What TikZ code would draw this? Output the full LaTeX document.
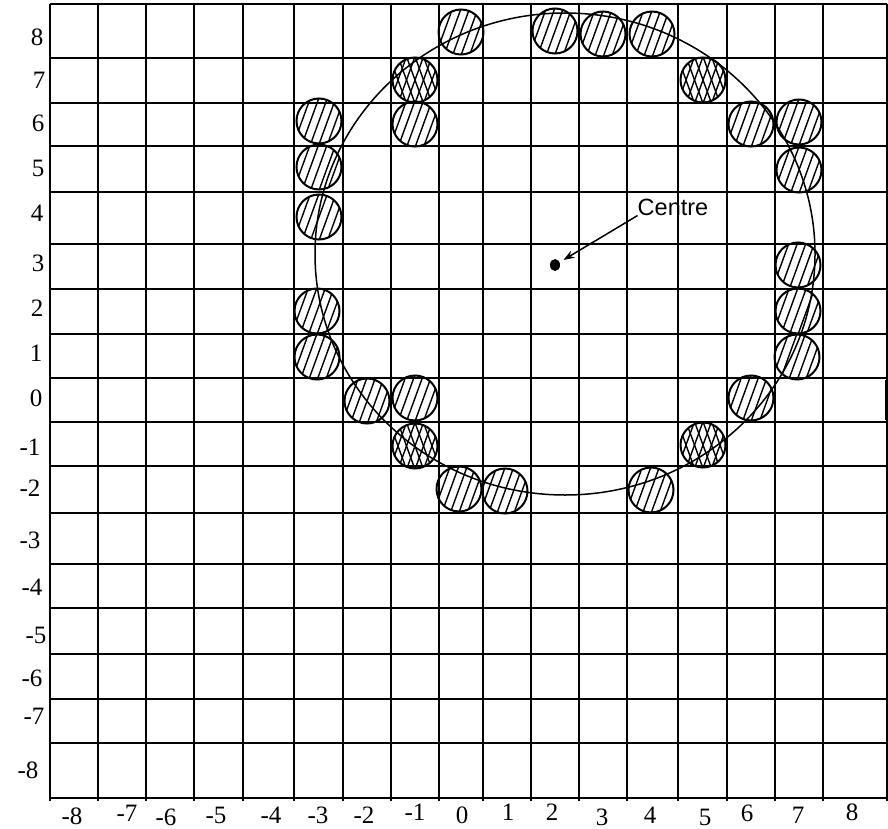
\documentclass[tikz,border=0pt]{standalone}
\usepackage{fontspec}
\setmainfont{Liberation Serif}
\setsansfont{Liberation Sans}
\usetikzlibrary{arrows.meta,shapes.geometric}
\newcommand{\gridxs}{50,98,146,194,243,294,343,391,439,483,531,579,627,678,727,775,823,887}
\newcommand{\gridys}{4,58,103,146,192,244,289,334,378,422,466,513,564,608,654,699,743,798}
\newcommand{\hatchlines}[1]{%
  \foreach \k in {-4,...,4}
    \draw[line width=1.4pt] ([xshift=\k*8.5pt]path picture bounding box.center)
      ++(#1+180:32pt) -- ++(#1:64pt);}
\tikzset{
  gridline/.style={line width=2pt},
  axislabel/.style={inner sep=0pt, font=\fontsize{25}{30}\selectfont},
  hdisc/.style={circle, draw, line width=2pt, minimum size=45pt, inner sep=0pt,
    path picture={\hatchlines{70}}},
  xdisc/.style={hdisc, path picture={\hatchlines{70}\hatchlines{110}}},
  centredot/.style={ellipse, fill, inner sep=0pt, minimum width=10pt, minimum height=12pt}
}
\begin{document}
\begin{tikzpicture}[x=1pt,y=-1pt]
  \useasboundingbox (0,0) rectangle (888,829);
  % grid
  \foreach \gx in \gridxs
    \draw[gridline] (\gx,4) -- (\gx,801);
  \foreach \gy in \gridys
    \draw[gridline] (50,\gy) -- (887,\gy);
  \draw[line width=4pt] (887,380) -- (887,420);
  % axis numbers
  \foreach \v/\px/\py [count=\i] in {-8/72/816,-7/127/813,-6/166/817,-5/216/815,
      -4/271/815,-3/318/815,-2/364/815,-1/415/812,0/462/815,1/508/812,2/552/812,
      3/602/817,4/650/815,5/705/817,6/747/813,7/798/815,8/852/812}
    \node[axislabel] (xlab\i) at (\px,\py) {\v};
  \foreach \v/\px/\py [count=\i] in {8/37/37,7/39/80,6/38/123,5/38/168,4/37/213,
      3/38/263,2/37/308,1/36/353,0/36/398,-1/30/447,-2/30/488,-3/30/540,
      -4/32/587,-5/36/635,-6/32/678,-7/34/716,-8/28/770}
    \node[axislabel] (ylab\i) at (\px,\py) {\v};
  % ring
  \draw[line width=1.5pt] (565,254) ellipse [x radius=250, y radius=241];
  % discs
  \foreach \px/\py/\sty [count=\i] in {461/32/hdisc,555/31/hdisc,603/34/hdisc,
      652/34/hdisc,415/80/xdisc,703/80/xdisc,415/124/hdisc,319/121/hdisc,
      751/124/hdisc,799/122/hdisc,319/167/hdisc,799/170/hdisc,319/217/hdisc,
      798/265/hdisc,317/311/hdisc,798/311/hdisc,317/357/hdisc,797/357/hdisc,
      367/401/hdisc,415/398/hdisc,751/398/hdisc,415/446/xdisc,703/445/xdisc,
      459/489/hdisc,505/491/hdisc,651/490/hdisc}
    \node[\sty] (disc\i) at (\px,\py) {};
  % centre
  \node[centredot] (centre) at (555,265) {};
  \node[inner sep=0pt, font=\sffamily\fontsize{23.5}{28}\selectfont] (centrelabel) at (673,207) {Centre};
  \draw[line width=1.5pt, -{Stealth[length=11pt,width=8pt]}, shorten >=4.5pt]
    (centrelabel.south west) -- (centre);
\end{tikzpicture}
\end{document}
